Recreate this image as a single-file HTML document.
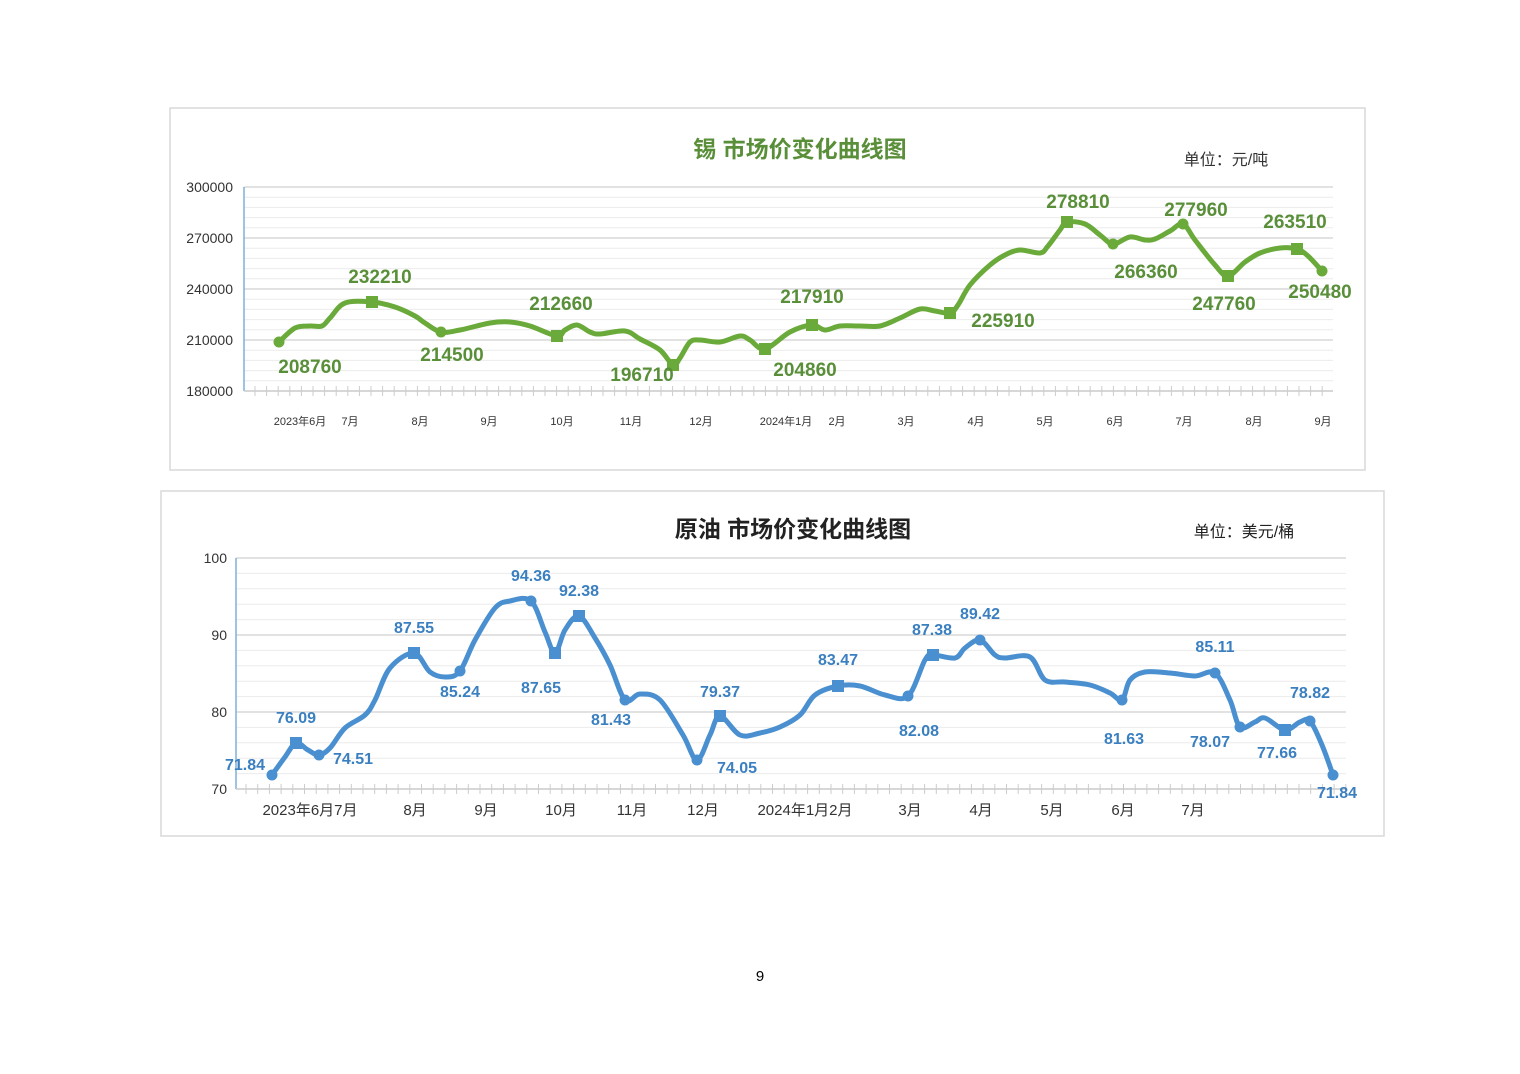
<!DOCTYPE html>
<html><head><meta charset="utf-8"><style>
body{margin:0;background:#fff;}
svg{display:block;font-family:"Liberation Sans","Noto Sans CJK SC",sans-serif;}
</style></head><body>
<svg id="s" width="1520" height="1074" xmlns="http://www.w3.org/2000/svg">
<rect x="170" y="108" width="1195" height="362" fill="#fff" stroke="#d9d9d9" stroke-width="1.5"/>
<rect x="161" y="491" width="1223" height="345" fill="#fff" stroke="#d9d9d9" stroke-width="1.5"/>
<g id="g1"></g><g id="g2"></g>
<text x="800" y="157" font-size="23" fill="#5a8f3a" text-anchor="middle" font-weight="bold">锡  市场价变化曲线图</text>
<text x="1226" y="165" font-size="16" fill="#333" text-anchor="middle">单位：元/吨</text>
<text x="793" y="537" font-size="23" fill="#222" text-anchor="middle" font-weight="bold">原油  市场价变化曲线图</text>
<text x="1244" y="537" font-size="16" fill="#222" text-anchor="middle">单位：美元/桶</text>
<text x="760" y="981" font-size="15" fill="#000" text-anchor="middle">9</text>
</svg>
<script>
const NS="http://www.w3.org/2000/svg";
function el(p,t,a,txt){const e=document.createElementNS(NS,t);for(const k in a)e.setAttribute(k,a[k]);if(txt!==undefined)e.textContent=txt;p.appendChild(e);return e;}
function smooth(pts){let d=`M${pts[0][0]},${pts[0][1]}`;for(let i=0;i<pts.length-1;i++){const p0=pts[i-1]||pts[i],p1=pts[i],p2=pts[i+1],p3=pts[i+2]||p2;const t=6;d+=` C${p1[0]+(p2[0]-p0[0])/t},${p1[1]+(p2[1]-p0[1])/t} ${p2[0]-(p3[0]-p1[0])/t},${p2[1]-(p3[1]-p1[1])/t} ${p2[0]},${p2[1]}`;}return d;}
// Tin
const g1=document.getElementById('g1');
for(let i=0;i<=20;i++){const y=187+i*204/20;el(g1,'line',{x1:244,x2:1333,y1:y,y2:y,stroke:i%5==0?'#d9d9d9':'#ececec','stroke-width':i%5==0?1.5:1});}
el(g1,'line',{x1:244,x2:244,y1:187,y2:391,stroke:'#7fb0d8','stroke-width':1.5});
el(g1,'line',{x1:244,x2:1333,y1:391,y2:391,stroke:'#d0d0d0','stroke-width':1.5});
for(let x=255;x<=1333;x+=11.6)el(g1,'line',{x1:x,x2:x,y1:386,y2:396,stroke:'#ccc'});
[300000,270000,240000,210000,180000].forEach((v,i)=>el(g1,'text',{x:233,y:192+i*51,'font-size':14,'text-anchor':'end',fill:'#333'},v));
[[300,'2023年6月'],[350,'7月'],[420,'8月'],[489,'9月'],[562,'10月'],[631,'11月'],[701,'12月'],[786,'2024年1月'],[837,'2月'],[906,'3月'],[976,'4月'],[1045,'5月'],[1115,'6月'],[1184,'7月'],[1254,'8月'],[1323,'9月']].forEach(a=>el(g1,'text',{x:a[0],y:425,'font-size':11,'text-anchor':'middle',fill:'#333'},a[1]));
const tin=[[279,342],[295,328],[310,326],[322,326],[330,318],[345,303],[372,302],[395,307],[415,316],[425,323],[441,332],[460,330],[490,323],[510,322],[530,326],[557,336],[565,330],[577,325],[590,332],[600,334],[625,331],[640,339],[660,350],[673,365],[680,358],[690,342],[700,340],[720,342],[740,336],[750,340],[765,349],[790,332],[812,325],[825,330],[840,326],[860,326],[880,326],[900,318],[920,309],[935,311],[950,313],[958,305],[970,285],[990,265],[1005,255],[1020,250],[1040,253],[1048,246],[1060,230],[1067,222],[1085,224],[1100,235],[1113,244],[1130,237],[1145,240],[1155,239],[1170,231],[1183,224],[1195,240],[1215,265],[1228,276],[1245,262],[1260,253],[1280,248],[1297,249],[1308,256],[1322,271]];
el(g1,'path',{d:smooth(tin),fill:'none',stroke:'#6aaa3a','stroke-width':5,'stroke-linecap':'round','stroke-linejoin':'round'});
[[279,342,'c'],[372,302,'s'],[441,332,'c'],[557,336,'s'],[673,365,'s'],[765,349,'s'],[812,325,'s'],[950,313,'s'],[1067,222,'s'],[1113,244,'c'],[1183,224,'c'],[1228,276,'s'],[1297,249,'s'],[1322,271,'c']].forEach(p=>{if(p[2]=='c')el(g1,'circle',{cx:p[0],cy:p[1],r:5.5,fill:'#6aaa3a'});else el(g1,'rect',{x:p[0]-6,y:p[1]-6,width:12,height:12,fill:'#6aaa3a'});});
[[310,373,'208760'],[380,283,'232210'],[452,361,'214500'],[561,310,'212660'],[642,381,'196710'],[805,376,'204860'],[812,303,'217910'],[1003,327,'225910'],[1078,208,'278810'],[1146,278,'266360'],[1196,216,'277960'],[1224,310,'247760'],[1295,228,'263510'],[1320,298,'250480']].forEach(a=>el(g1,'text',{x:a[0],y:a[1],'font-size':19,'font-weight':'bold','text-anchor':'middle',fill:'#5a8f3a'},a[2]));
// Oil
const g2=document.getElementById('g2');
for(let i=0;i<=15;i++){const y=558+i*231/15;el(g2,'line',{x1:236,x2:1346,y1:y,y2:y,stroke:i%5==0?'#d9d9d9':'#ececec','stroke-width':i%5==0?1.5:1});}
el(g2,'line',{x1:236,x2:236,y1:558,y2:789,stroke:'#7fb0d8','stroke-width':1.5});
el(g2,'line',{x1:236,x2:1346,y1:789,y2:789,stroke:'#d0d0d0','stroke-width':1.5});
for(let x=246;x<=1346;x+=11.7)el(g2,'line',{x1:x,x2:x,y1:784,y2:794,stroke:'#ccc'});
[100,90,80,70].forEach((v,i)=>el(g2,'text',{x:227,y:563+i*77,'font-size':14,'text-anchor':'end',fill:'#333'},v));
[[310,'2023年6月7月'],[415,'8月'],[486,'9月'],[561,'10月'],[632,'11月'],[703,'12月'],[805,'2024年1月2月'],[910,'3月'],[981,'4月'],[1052,'5月'],[1123,'6月'],[1193,'7月']].forEach(a=>el(g2,'text',{x:a[0],y:815,'font-size':15,'text-anchor':'middle',fill:'#333'},a[1]));
const oil=[[272,775],[285,757],[296,743],[308,750],[319,755],[330,748],[345,728],[365,715],[375,700],[390,668],[414,653],[430,672],[446,677],[460,671],[475,640],[495,608],[510,601],[531,601],[545,632],[555,653],[565,630],[579,616],[595,638],[610,665],[625,700],[640,694],[660,700],[683,735],[697,760],[710,735],[720,716],[740,735],[760,733],[780,727],[800,715],[815,695],[838,686],[860,686],[885,695],[908,696],[925,660],[933,655],[955,658],[965,648],[980,640],[995,655],[1005,658],[1030,657],[1045,680],[1065,682],[1090,685],[1110,693],[1122,700],[1130,680],[1145,672],[1170,673],[1195,676],[1215,673],[1230,700],[1240,727],[1255,722],[1265,718],[1285,730],[1300,722],[1310,721],[1322,745],[1333,775]];
el(g2,'path',{d:smooth(oil),fill:'none',stroke:'#4a90d0','stroke-width':5,'stroke-linecap':'round','stroke-linejoin':'round'});
[[272,775,'c'],[296,743,'s'],[319,755,'c'],[414,653,'s'],[460,671,'c'],[531,601,'c'],[555,653,'s'],[579,616,'s'],[625,700,'c'],[697,760,'c'],[720,716,'s'],[838,686,'s'],[908,696,'c'],[933,655,'s'],[980,640,'c'],[1122,700,'c'],[1215,673,'c'],[1240,727,'c'],[1285,730,'s'],[1310,721,'c'],[1333,775,'c']].forEach(p=>{if(p[2]=='c')el(g2,'circle',{cx:p[0],cy:p[1],r:5.5,fill:'#4a90d0'});else el(g2,'rect',{x:p[0]-6,y:p[1]-6,width:12,height:12,fill:'#4a90d0'});});
[[245,770,'71.84'],[296,723,'76.09'],[353,764,'74.51'],[414,633,'87.55'],[460,697,'85.24'],[531,581,'94.36'],[541,693,'87.65'],[579,596,'92.38'],[611,725,'81.43'],[737,773,'74.05'],[720,697,'79.37'],[838,665,'83.47'],[919,736,'82.08'],[932,635,'87.38'],[980,619,'89.42'],[1124,744,'81.63'],[1215,652,'85.11'],[1210,747,'78.07'],[1277,758,'77.66'],[1310,698,'78.82'],[1337,798,'71.84']].forEach(a=>el(g2,'text',{x:a[0],y:a[1],'font-size':16,'font-weight':'bold','text-anchor':'middle',fill:'#3a7fc0'},a[2]));
</script>
</body></html>
